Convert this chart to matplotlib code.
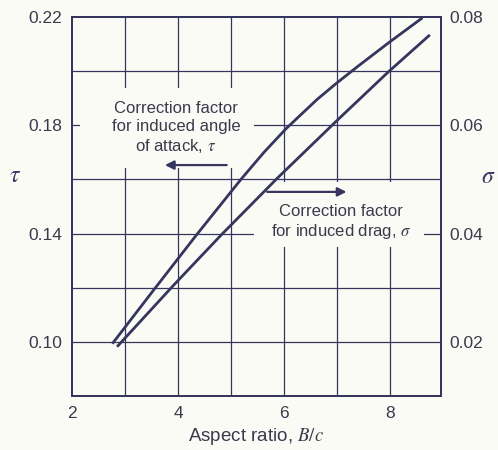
import matplotlib
matplotlib.use("Agg")
import matplotlib.pyplot as plt
from matplotlib.patches import Rectangle

plt.rcParams['font.family'] = ['Liberation Sans', 'DejaVu Sans']
plt.rcParams['mathtext.fontset'] = 'stix'

# tau curve (read on left axis)
tau_x = [2.76, 3.55, 4.34, 5.19, 5.62, 6.04, 6.62, 6.98, 7.38, 7.98, 8.61]
tau_y = [0.0993, 0.1194, 0.1393, 0.1601, 0.1700, 0.1788, 0.1895, 0.1954, 0.2016, 0.2106, 0.2197]

# sigma curve (read on right axis)
sig_x = [2.85, 3.92, 4.81, 5.88, 7.00, 7.96, 8.75]
sig_y = [0.0191, 0.0305, 0.0397, 0.0503, 0.0609, 0.0698, 0.0767]

x_ticks = [2, 4, 6, 8]
tau_ticks = [0.10, 0.14, 0.18, 0.22]
sig_ticks = [0.02, 0.04, 0.06, 0.08]

ink = '#35355e'
txt = '#3a3a4c'
bg = '#fbfbf6'

fig = plt.figure(figsize=(4.98, 4.5), dpi=100, facecolor=bg)
ax = fig.add_axes([72/498, 1-396/450, (441-72)/498, (396-17)/450])
ax.set_facecolor(bg)
ax.set_xlim(2, 8.96)
ax.set_ylim(0.08, 0.22)

# grid
for gx in range(3, 9):
    ax.axvline(gx, color=ink, lw=0.9, zorder=1)
for gy in [0.10, 0.12, 0.14, 0.16, 0.18, 0.20]:
    ax.axhline(gy, color=ink, lw=0.9, zorder=1)

# blank patches behind the labels
ax.add_patch(Rectangle((2.15, 0.1642), 3.29, 0.0296, facecolor=bg, edgecolor='none', zorder=2))
ax.add_patch(Rectangle((5.44, 0.1351), 3.20, 0.0240, facecolor=bg, edgecolor='none', zorder=2))

ax.plot(tau_x, tau_y, color=ink, lw=2.0, zorder=4, solid_capstyle='butt')

ax2 = ax.twinx()
ax2.set_ylim(0.01, 0.08)
ax2.plot(sig_x, sig_y, color=ink, lw=2.0, zorder=4, solid_capstyle='butt')

ax.set_xticks(x_ticks)
ax.set_yticks(tau_ticks)
ax.set_yticklabels(['%.2f' % v for v in tau_ticks])
ax2.set_yticks(sig_ticks)
ax2.set_yticklabels(['%.2f' % v for v in sig_ticks])
ax.tick_params(length=0, labelsize=12.5, colors=txt, pad=7)
ax2.tick_params(length=0, labelsize=12.5, colors=txt, pad=6)

for a in (ax, ax2):
    for s in a.spines.values():
        s.set_color(ink)
        s.set_linewidth(1.4)

ax.text(3.96, 0.1790, 'Correction factor\nfor induced angle\nof attack, $\\tau$',
        ha='center', va='center', fontsize=12, color=txt, linespacing=1.25, zorder=5)
ax.text(7.08, 0.1440, 'Correction factor\nfor induced drag, $\\sigma$',
        ha='center', va='center', fontsize=12, color=txt, linespacing=1.25, zorder=5)

ax.annotate('', xy=(3.70, 0.1653), xytext=(4.97, 0.1653),
            arrowprops=dict(arrowstyle='-|>', color=ink, lw=1.6, mutation_scale=13), zorder=5)
ax.annotate('', xy=(7.23, 0.1554), xytext=(5.63, 0.1554),
            arrowprops=dict(arrowstyle='-|>', color=ink, lw=1.6, mutation_scale=13), zorder=5)

ax.set_xlabel('Aspect ratio, $B/c$', fontsize=13.5, color=txt, labelpad=4)
fig.text(15/498, 1-176/450, '$\\tau$', fontsize=17, color=ink, ha='center', va='center')
fig.text(488/498, 1-177/450, '$\\sigma$', fontsize=17, color=ink, ha='center', va='center')

fig.savefig('out.png', dpi=100, facecolor=bg)
